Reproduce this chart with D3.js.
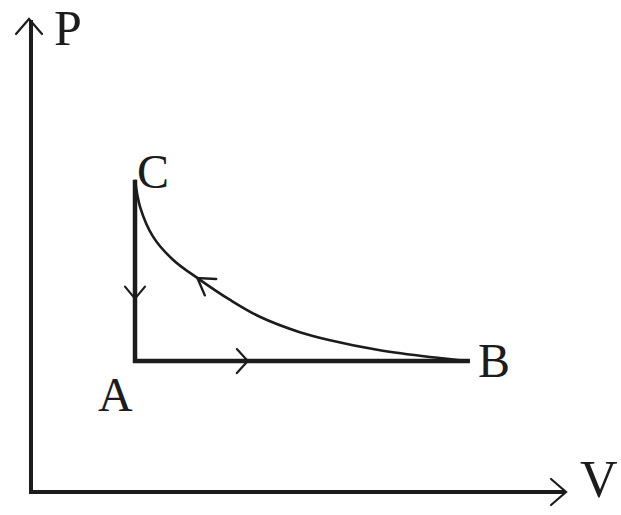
<!DOCTYPE html>
<html lang="en">
<head>
  <meta charset="UTF-8" />
  <title>P-V cycle A-B-C</title>
  <script src="https://d3js.org/d3.v7.min.js"></script>
  <style>
    body { margin: 0; background: white; }
    svg { display: block; }
    text { font-family: "Liberation Serif", "DejaVu Serif", serif; fill: #1c1c1c; }
  </style>
</head>
<body>
<svg id="chart" width="621" height="515"></svg>
<script>
const width = 621, height = 515;

// Data (V in arbitrary units, P in arbitrary units)
const stateNames = ['A', 'B', 'C'];
const stateV = [2.0, 8.44, 2.0];
const stateP = [1.95, 1.95, 4.65];

// curve from C to B (drawn as read)
const curveV = [2.0, 2.1, 2.35, 2.73, 3.25, 3.83, 4.40, 5.17, 5.75, 6.71, 7.67, 8.44];
const curveP = [4.65, 4.24, 3.80, 3.46, 3.16, 2.86, 2.61, 2.38, 2.26, 2.11, 2.01, 1.95];

// where the direction arrows sit
const arrowCA_P = 2.88;
const arrowAB_V = 4.17;
const arrowCurve_V = 3.2;

const axisVmax = 10.27, axisPmax = 7.03;

const svg = d3.select("#chart");
const x = d3.scaleLinear().domain([0, 10]).range([31, 551]);
const y = d3.scaleLinear().domain([0, 7]).range([492, 22]);

const ink = "#1c1c1c";

function chevron(tx, ty, angle, back, spread, sw) {
  // angle: direction the arrow points (radians)
  const c = Math.cos(angle), s = Math.sin(angle);
  const p1 = [tx - back * c - spread * s, ty - back * s + spread * c];
  const p2 = [tx - back * c + spread * s, ty - back * s - spread * c];
  svg.append("path")
    .attr("d", d3.line()([p1, [tx, ty], p2]))
    .attr("fill", "none")
    .attr("stroke", ink)
    .attr("stroke-width", sw)
    .attr("stroke-linecap", "round")
    .attr("stroke-linejoin", "miter");
}

// axes
svg.append("line")
  .attr("x1", x(0)).attr("y1", y(0))
  .attr("x2", x(0)).attr("y2", y(axisPmax))
  .attr("stroke", ink).attr("stroke-width", 4);
svg.append("line")
  .attr("x1", x(0) - 2).attr("y1", y(0))
  .attr("x2", x(axisVmax)).attr("y2", y(0))
  .attr("stroke", ink).attr("stroke-width", 4);
chevron(x(0) - 2, y(axisPmax) - 1, -Math.PI / 2, 15, 13, 2.2);
chevron(x(axisVmax) + 1, y(0), 0, 15, 13, 2.2);

svg.append("text").attr("x", 54).attr("y", 45).attr("font-size", 50).text("P");
svg.append("text").attr("x", 580).attr("y", 497).attr("font-size", 52).text("V");

// process lines
const A = [x(stateV[0]), y(stateP[0])];
const B = [x(stateV[1]), y(stateP[1])];
const C = [x(stateV[2]), y(stateP[2])];

svg.append("path")
  .attr("d", d3.line()([C, A, B]))
  .attr("fill", "none")
  .attr("stroke", ink)
  .attr("stroke-width", 4.5)
  .attr("stroke-linejoin", "miter");

const curvePts = curveV.map((v, i) => [x(v), y(curveP[i])]);
const curvePath = svg.append("path")
  .attr("d", d3.line().curve(d3.curveCatmullRom.alpha(0.5))(curvePts))
  .attr("fill", "none")
  .attr("stroke", ink)
  .attr("stroke-width", 2.6);

// arrows
chevron(A[0], y(arrowCA_P), Math.PI / 2, 12, 10, 2.2);
chevron(x(arrowAB_V), A[1], 0, 11, 12, 2.2);

// curve arrow: find point on curve at given V, point towards C
const node = curvePath.node();
const total = node.getTotalLength();
const targetX = x(arrowCurve_V);
let lo = 0, hi = total;
for (let k = 0; k < 40; k++) {
  const mid = (lo + hi) / 2;
  if (node.getPointAtLength(mid).x < targetX) lo = mid; else hi = mid;
}
const tip = node.getPointAtLength(lo);
const before = node.getPointAtLength(Math.max(0, lo - 4));
const after = node.getPointAtLength(Math.min(total, lo + 4));
const ang = Math.atan2(before.y - after.y, before.x - after.x);
chevron(tip.x, tip.y, ang, 16, 10, 2.4);

// state labels
svg.append("text").attr("x", C[0] + 2).attr("y", C[1] + 8).attr("font-size", 48).text(stateNames[2]);
svg.append("text").attr("x", A[0] - 37).attr("y", A[1] + 50).attr("font-size", 48).text(stateNames[0]);
svg.append("text").attr("x", B[0] + 8).attr("y", B[1] + 16).attr("font-size", 48).text(stateNames[1]);
</script>
</body>
</html>
